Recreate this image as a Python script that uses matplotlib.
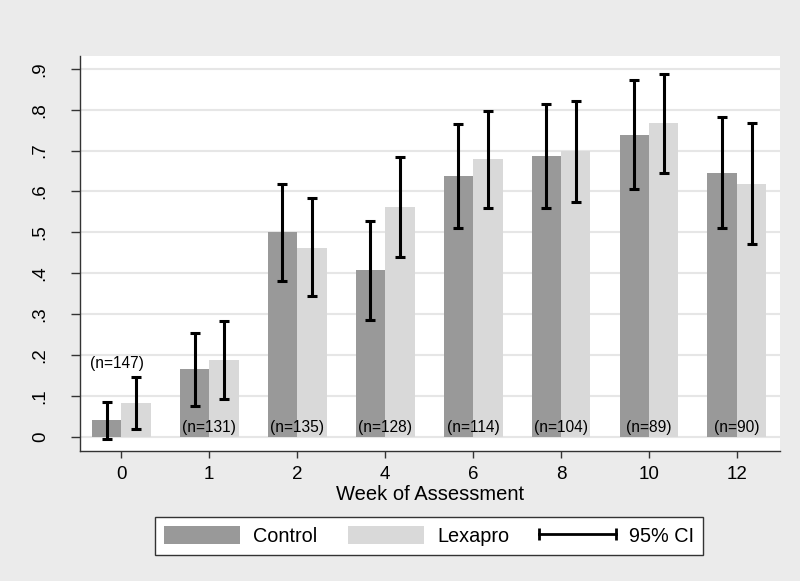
import numpy as np
import matplotlib
matplotlib.use("Agg")
import matplotlib.pyplot as plt
from matplotlib.patches import Patch
from matplotlib.lines import Line2D
from matplotlib.legend_handler import HandlerLine2D

plt.rcParams['font.family'] = ['Liberation Sans', 'DejaVu Sans']

weeks = ["0", "1", "2", "4", "6", "8", "10", "12"]
control = [0.042, 0.166, 0.501, 0.408, 0.637, 0.687, 0.738, 0.646]
control_lo = [-0.005, 0.075, 0.381, 0.286, 0.512, 0.559, 0.606, 0.511]
control_hi = [0.086, 0.255, 0.619, 0.527, 0.765, 0.813, 0.872, 0.782]
lexapro = [0.084, 0.188, 0.463, 0.562, 0.679, 0.699, 0.767, 0.619]
lexapro_lo = [0.020, 0.092, 0.344, 0.441, 0.559, 0.575, 0.645, 0.472]
lexapro_hi = [0.147, 0.284, 0.583, 0.685, 0.797, 0.822, 0.887, 0.767]
n_labels = ["(n=147)", "(n=131)", "(n=135)", "(n=128)", "(n=114)", "(n=104)", "(n=89)", "(n=90)"]
n_label_y = [0.18, 0.023, 0.023, 0.023, 0.023, 0.023, 0.023, 0.023]
n_label_dx = [-0.05, 0, 0, 0, 0, 0, 0, 0]
yticks = [0, 0.1, 0.2, 0.3, 0.4, 0.5, 0.6, 0.7, 0.8, 0.9]
yticklabels = ["0", ".1", ".2", ".3", ".4", ".5", ".6", ".7", ".8", ".9"]

bg = '#ebebeb'
c_control = '#999999'
c_lex = '#d9d9d9'

fig = plt.figure(figsize=(8, 5.81), dpi=100, facecolor=bg)
ax = fig.add_axes([0.1, 0.2238, 0.875, 0.6798])
ax.set_facecolor('white')

x = np.arange(len(weeks))
w = 0.335
ax.bar(x - w/2, control, width=w, color=c_control, zorder=2)
ax.bar(x + w/2, lexapro, width=w, color=c_lex, zorder=2)

c = np.array(control); cl = np.array(control_lo); ch = np.array(control_hi)
l = np.array(lexapro); ll = np.array(lexapro_lo); lh = np.array(lexapro_hi)
ax.errorbar(x - w/2, c, yerr=[c - cl, ch - c], fmt='none', ecolor='black',
            elinewidth=2.2, capsize=3.3, capthick=2.2, zorder=3)
ax.errorbar(x + w/2, l, yerr=[l - ll, lh - l], fmt='none', ecolor='black',
            elinewidth=2.2, capsize=3.3, capthick=2.2, zorder=3)

for i, (lab, yy, dx) in enumerate(zip(n_labels, n_label_y, n_label_dx)):
    ax.text(i + dx, yy, lab, ha='center', va='center', fontsize=11.2, color='black', zorder=4)

ax.set_xlim(-0.47, 7.49)
ax.set_ylim(-0.034, 0.931)
ax.set_xticks(x)
ax.set_xticklabels(weeks, fontsize=13.5)
ax.set_yticks(yticks)
ax.set_yticklabels(yticklabels, fontsize=13.5, rotation=90, va='center')
ax.tick_params(axis='y', direction='out', length=6.5, width=1, color='#333333', pad=16)
ax.tick_params(axis='x', direction='out', length=5, width=1, color='#333333', pad=6)
ax.yaxis.grid(True, color='#e6e6e6', linewidth=1.5, zorder=0)
ax.set_axisbelow(True)
for s in ['top', 'right']:
    ax.spines[s].set_visible(False)
for s in ['left', 'bottom']:
    ax.spines[s].set_color('#333333')
    ax.spines[s].set_linewidth(1)
ax.set_xlabel("Week of Assessment", fontsize=14.5, labelpad=1)

handles = [Patch(facecolor=c_control, edgecolor='none'),
           Patch(facecolor=c_lex, edgecolor='none'),
           Line2D([], [], color='black', lw=2, marker='|', markersize=8, markeredgewidth=2)]
leg = fig.legend(handles, ["Control", "Lexapro", "95% CI"], loc='center',
                 bbox_to_anchor=(0.536, 0.0776), ncol=3, fontsize=14.3,
                 frameon=True, fancybox=False, edgecolor='#333333', framealpha=1,
                 handlelength=3.83, handleheight=1.06, handletextpad=0.68,
                 columnspacing=1.52, borderpad=0.45,
                 handler_map={handles[2]: HandlerLine2D(numpoints=2, marker_pad=0)})
leg.get_frame().set_linewidth(1)

fig.savefig("out.png", dpi=100, facecolor=bg)
